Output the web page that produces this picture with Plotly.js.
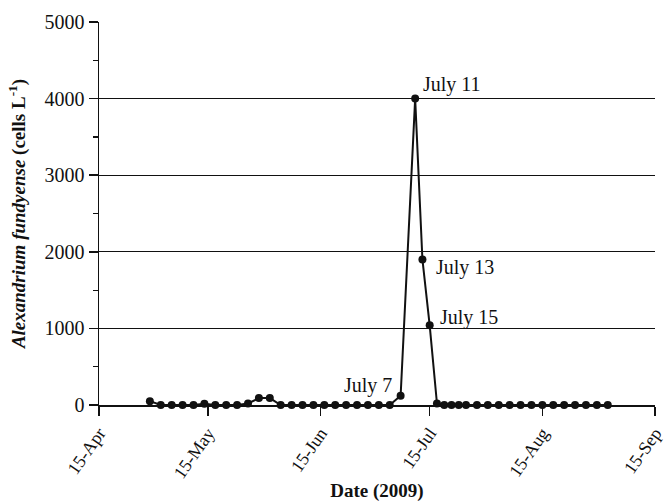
<!DOCTYPE html>
<html>
<head>
<meta charset="utf-8">
<script src="https://cdn.plot.ly/plotly-3.0.1.min.js"></script>
<style>html,body{margin:0;padding:0;background:#fff;}#chart{width:671px;height:502px;}</style>
</head>
<body>
<div id="chart"></div>
<script>
// Sampling dates (2009)
const dates = [
  '2009-04-29','2009-05-02','2009-05-05','2009-05-08','2009-05-11','2009-05-14',
  '2009-05-17','2009-05-20','2009-05-23','2009-05-26','2009-05-29','2009-06-01',
  '2009-06-04','2009-06-07','2009-06-10','2009-06-13','2009-06-16','2009-06-19',
  '2009-06-22','2009-06-25','2009-06-28','2009-07-01','2009-07-04','2009-07-07',
  '2009-07-11','2009-07-13','2009-07-15',
  '2009-07-17','2009-07-19','2009-07-21','2009-07-23','2009-07-25','2009-07-28',
  '2009-07-31','2009-08-03','2009-08-06','2009-08-09','2009-08-12','2009-08-15',
  '2009-08-18','2009-08-21','2009-08-24','2009-08-27','2009-08-30','2009-09-02'
];
// Alexandrium fundyense (cells per litre)
const cells = [
  50,0,0,0,0,15,
  0,0,0,20,90,90,
  0,0,0,0,0,0,
  0,0,0,0,0,120,
  4000,1900,1040,
  20,0,0,0,0,0,
  0,0,0,0,0,0,
  0,0,0,0,0,0
];
const tickDates = ['2009-04-15','2009-05-15','2009-06-15','2009-07-15','2009-08-15','2009-09-15'];
const yTicks = [0,1000,2000,3000,4000,5000];
const labelled = [
  {idx: 23, text: 'July 7'},
  {idx: 24, text: 'July 11'},
  {idx: 25, text: 'July 13'},
  {idx: 26, text: 'July 15'}
];
const labelStyle = {
  'July 7':  {xanchor:'right', xshift:-7, yshift:10},
  'July 11': {xanchor:'left',  xshift:6,  yshift:14},
  'July 13': {xanchor:'left',  xshift:12, yshift:-8},
  'July 15': {xanchor:'left',  xshift:8,  yshift:8}
};

const FONT = 'Liberation Serif, Times New Roman, serif';

const trace = {
  x: dates, y: cells, type: 'scatter', mode: 'lines+markers',
  line: {color: '#111', width: 2},
  marker: {color: '#111', size: 8},
  cliponaxis: false, hoverinfo: 'skip'
};

const annotations = labelled.map(a => Object.assign({
  x: dates[a.idx], y: cells[a.idx], xref: 'x', yref: 'y',
  text: a.text, showarrow: false, yanchor: 'middle',
  font: {family: FONT, size: 20, color: '#111'}
}, labelStyle[a.text]));

const layout = {
  width: 671, height: 502,
  margin: {l: 99, r: 16, t: 22, b: 97},
  paper_bgcolor: '#fff', plot_bgcolor: '#fff',
  showlegend: false,
  font: {family: FONT, size: 20, color: '#111'},
  xaxis: {
    type: 'date',
    range: ['2009-04-15', '2009-09-15'],
    tickvals: tickDates, tickformat: '%d-%b',
    tickangle: -55,
    ticks: 'outside', ticklen: 9, tickwidth: 1.5, tickcolor: '#111',
    showline: true, linecolor: '#111', linewidth: 1.5,
    showgrid: false, zeroline: false,
    tickfont: {family: FONT, size: 18, color: '#111'},
    title: {text: '<b>Date (2009)</b>', font: {family: FONT, size: 19, color: '#111'}, standoff: 8},
    automargin: false
  },
  yaxis: {
    range: [0, 5000],
    tickvals: yTicks,
    ticks: 'outside', ticklen: 9, tickwidth: 1.5, tickcolor: '#111',
    minor: {dtick: 500, tick0: 0, ticks: 'outside', ticklen: 5, tickwidth: 1.2, tickcolor: '#111', showgrid: false},
    showline: true, linecolor: '#111', linewidth: 1.5,
    showgrid: true, gridcolor: '#111', gridwidth: 1,
    zeroline: false,
    tickfont: {family: FONT, size: 20, color: '#111'},
    title: {text: '<b><i>Alexandrium fundyense</i> (cells L<sup>-1</sup>)</b>', font: {family: FONT, size: 19, color: '#111'}, standoff: 14},
    automargin: false
  },
  annotations: annotations
};

Plotly.newPlot('chart', [trace], layout, {displayModeBar: false, staticPlot: true});
</script>
</body>
</html>
